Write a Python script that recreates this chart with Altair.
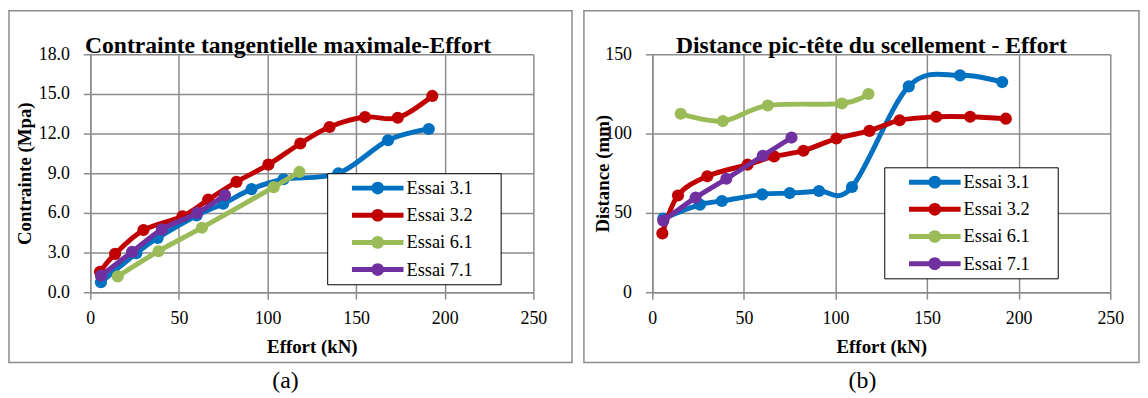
import altair as alt
import pandas as pd

SERIES = ["Essai 3.1", "Essai 3.2", "Essai 6.1", "Essai 7.1"]
COLORS = ["#0070C0", "#C00000", "#9BBB59", "#7030A0"]

# Essai 3.1
EFFORT_31 = [6, 26, 38, 60, 75, 91, 109, 140, 168, 191]
CONTRAINTE_31 = [0.75, 2.95, 4.1, 5.8, 6.7, 7.8, 8.55, 9.0, 11.5, 12.35]
DISTANCE_31 = [46.5, 55.2, 57.5, 61.7, 62.5, 63.8, 66.3, 129.8, 136.7, 132.5]
# Essai 3.2
EFFORT_32 = [5.5, 14, 30, 52, 66.5, 82.5, 100.5, 118.5, 135, 155, 173.5, 193]
CONTRAINTE_32 = [1.55, 2.9, 4.7, 5.75, 7.0, 8.35, 9.65, 11.25, 12.5, 13.25, 13.2, 14.85]
DISTANCE_32 = [37.1, 61, 73.1, 80.4, 85.6, 89.2, 96.9, 101.7, 108.4, 110.6, 110.6, 109.4]
# Essai 6.1
EFFORT_61 = [15.5, 38.5, 63, 103.5, 118]
CONTRAINTE_61 = [1.2, 3.1, 4.88, 7.95, 9.1]
DISTANCE_61 = [112.5, 107.9, 117.7, 119, 125]
# Essai 7.1
EFFORT_71 = [6, 23.6, 40.4, 60.3, 76]
CONTRAINTE_71 = [1.25, 3.05, 4.75, 6.0, 7.35]
DISTANCE_71 = [45, 59.6, 71.5, 86, 97.5]

X_TICKS = [0, 50, 100, 150, 200, 250]
Y1_TICKS = [0, 3, 6, 9, 12, 15, 18]
Y2_TICKS = [0, 50, 100, 150]

FONT = "Liberation Serif"
GRID = "#8c8c8c"
# legend symbol: line with a dot; the last empty sub-path only widens the legend box
SYMBOL = ("M1,-0.25 L6.2,-0.25 L6.2,0.25 L1,0.25 Z "
          "M2.96,0 A0.64,0.64 0 1,1 4.24,0 A0.64,0.64 0 1,1 2.96,0 Z "
          "M15.5,0 L15.5,0 Z")

frames = []
for name, e, c, d in [
    (SERIES[0], EFFORT_31, CONTRAINTE_31, DISTANCE_31),
    (SERIES[1], EFFORT_32, CONTRAINTE_32, DISTANCE_32),
    (SERIES[2], EFFORT_61, CONTRAINTE_61, DISTANCE_61),
    (SERIES[3], EFFORT_71, CONTRAINTE_71, DISTANCE_71),
]:
    frames.append(pd.DataFrame({"series": name, "effort": e, "contrainte": c, "distance": d}))
df = pd.concat(frames, ignore_index=True)


def text_layer(txt, x, y, size, weight, baseline):
    return alt.Chart(alt.Data(values=[{"t": txt}])).mark_text(
        font=FONT, fontSize=size, fontWeight=weight, align="center",
        baseline=baseline, color="black"
    ).encode(x=alt.value(x), y=alt.value(y), text="t:N")


def panel(ycol, ytitle, ydomain, yticks, yfmt, width, title, title_x, caption,
          caption_x, frame_left, frame_right, legend_x, legend_y, ytitle_x):
    height = 240
    x = alt.X("effort:Q", scale=alt.Scale(domain=[0, 250], nice=False, zero=False),
              axis=alt.Axis(values=X_TICKS, title="Effort (kN)", labelPadding=11,
                            titleY=55, titleBaseline="middle", labelFlush=False,
                            labelOverlap=False))
    y = alt.Y(f"{ycol}:Q", scale=alt.Scale(domain=ydomain, nice=False, zero=False),
              axis=alt.Axis(values=yticks, format=yfmt, title=ytitle, labelPadding=14,
                            titleX=ytitle_x, titleY=height / 2, titleBaseline="middle",
                            labelOverlap=False))
    cscale = alt.Scale(domain=SERIES, range=COLORS)
    legend = alt.Legend(title=None, orient="none", legendX=legend_x, legendY=legend_y,
                        symbolType=SYMBOL, symbolSize=400, symbolStrokeWidth=0,
                        symbolOpacity=1, labelFont=FONT, labelFontSize=18.5,
                        labelColor="black", labelOffset=55, padding=5, rowPadding=7.4,
                        strokeColor="black", fillColor="white")

    frame = alt.Chart(alt.Data(values=[{"a": 1}])).mark_rect(
        fillOpacity=0, stroke=GRID, strokeWidth=1.5
    ).encode(x=alt.value(frame_left), x2=alt.value(width + frame_right),
             y=alt.value(-44), y2=alt.value(height + 71))

    layers = [frame]
    for s, col in zip(SERIES, COLORS):
        sub = df[df.series == s]
        line = alt.Chart(sub).mark_line(interpolate="cardinal", strokeWidth=5).encode(
            x=x, y=y, color=alt.value(col))
        pts = alt.Chart(sub).mark_circle(size=150, opacity=1).encode(
            x=x, y=y, color=alt.Color("series:N", scale=cscale, legend=legend))
        layers += [line, pts]
    layers.append(text_layer(title, title_x, -1, 23.8, "bold", "alphabetic"))
    layers.append(text_layer(caption, caption_x, 330, 24, "normal", "middle"))
    return alt.layer(*layers).properties(width=width, height=height)


left = panel("contrainte", "Contrainte (Mpa)", [0, 18], Y1_TICKS, ".1f", 447,
             "Contrainte tangentielle maximale-Effort", 199.5, "(a)", 197,
             -82, 39, 239, 120, -66)
right = panel("distance", "Distance (mm)", [0, 150], Y2_TICKS, "d", 462,
              "Distance pic-tête du scellement - Effort", 221, "(b)", 212,
              -69, 29, 234, 114, -50)

chart = alt.hconcat(left, right, spacing=10).resolve_scale(
    color="independent"
).resolve_legend(
    color="independent"
).properties(
    padding=0, background="white"
).configure_view(strokeWidth=0).configure_axis(
    labelFont=FONT, labelFontSize=18, labelColor="black",
    titleFont=FONT, titleFontSize=19, titleFontWeight="bold", titleColor="black",
    gridColor=GRID, gridWidth=1.5, domainColor=GRID, domainWidth=1.5,
    tickColor=GRID, tickWidth=1.5, tickSize=7,
)

chart.save("out.html", embed_options={"renderer": "svg", "actions": False})
